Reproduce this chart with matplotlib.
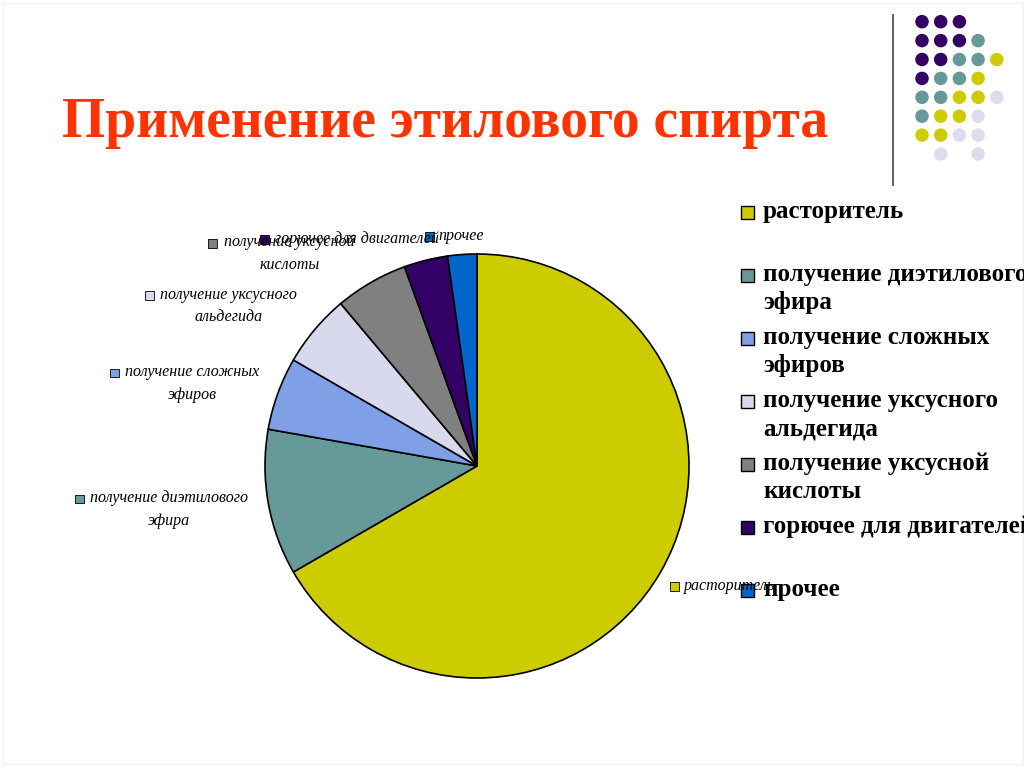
import matplotlib.pyplot as plt
from matplotlib.patches import Rectangle, Ellipse
from matplotlib.lines import Line2D

# data
labels = ["расторитель", "получение диэтилового\nэфира", "получение сложных\nэфиров",
          "получение уксусного\nальдегида", "получение уксусной\nкислоты",
          "горючее для двигателей", "прочее"]
values = [60, 10, 5, 5, 5, 3, 2]
colors = ["#CCCC00", "#669999", "#7F9FE6", "#D9D9EE", "#808080", "#330066", "#0066CC"]

# decoration dot pattern (P purple, T teal, Y yellow, L lavender)
dot_rows = ["PPP..", "PPPT.", "PPTTY", "PTTY.", "TTYYL", "TYYL.", "YYLL.", ".L.L."]
dot_colors = {"P": "#330066", "T": "#669999", "Y": "#CCCC00", "L": "#DDDDEE"}

W, H = 1024, 767
fig = plt.figure(figsize=(W / 100, H / 100), dpi=100)
fig.patch.set_facecolor("white")


def fx(x):
    return x / W


def fy(y):
    return 1 - y / H


# faint slide border
fig.add_artist(Rectangle((fx(3), fy(764)), fx(1020), 761 / H, transform=fig.transFigure,
                         fill=False, edgecolor="#F0F0F0", lw=1))

# title
fig.text(fx(62), fy(137), "Применение этилового спирта", family="Liberation Serif",
         weight="bold", fontsize=40, color="#FF3300", va="baseline", ha="left")

# decoration
fig.add_artist(Line2D([fx(893), fx(893)], [fy(15), fy(185)], transform=fig.transFigure,
                      color="#666666", lw=1.5))
for r, row in enumerate(dot_rows):
    for c, ch in enumerate(row):
        if ch == ".":
            continue
        dx = 922 + c * 18.7
        dy = 21.7 + r * 18.9
        fig.add_artist(Ellipse((fx(dx), fy(dy)), 13.5 / W, 13.5 / H,
                               transform=fig.transFigure,
                               facecolor=dot_colors[ch], edgecolor="none"))

# pie
cx, cy, rad = 477, 466, 212
lim = 1.05
size = rad * lim
ax = fig.add_axes([fx(cx - size), fy(cy + size), 2 * size / W, 2 * size / H])
ax.pie(values, colors=colors, startangle=90, counterclock=False,
       wedgeprops=dict(edgecolor="black", linewidth=1.2))
ax.set_xlim(-lim, lim)
ax.set_ylim(-lim, lim)
ax.set_aspect("equal")
ax.axis("off")

# pie labels (marker x, text x, y of first line)
label_pos = [(670, 684, 586), (75, 90, 499), (110, 125, 373), (145, 160, 295),
             (208, 224, 243), (260, 275, 239), (425, 438, 236)]
for lab, col, (mx, tx, ty) in zip(labels, colors, label_pos):
    fig.add_artist(Rectangle((fx(mx), fy(ty + 4.5)), 8.5 / W, 8.5 / H,
                             transform=fig.transFigure, facecolor=col,
                             edgecolor="black", lw=0.6))
    if "\n" in lab:
        fig.text(fx(tx), fy(ty - 8.5), lab, family="Liberation Serif", style="italic",
                 fontsize=11.5, ha="left", va="top", multialignment="center",
                 linespacing=1.55)
    else:
        fig.text(fx(tx), fy(ty), lab, family="Liberation Serif", style="italic",
                 fontsize=11.5, ha="left", va="center")

# legend
for i, (lab, col) in enumerate(zip(labels, colors)):
    ly = 212 + i * 63
    fig.add_artist(Rectangle((fx(741), fy(ly + 7)), 13 / W, 13 / H,
                             transform=fig.transFigure, facecolor=col,
                             edgecolor="black", lw=1))
    fig.text(fx(763), fy(ly - 12), lab, family="Liberation Serif", weight="bold",
             fontsize=18, ha="left", va="top", linespacing=1.3)

fig.savefig("out.png", dpi=100, facecolor="white")
